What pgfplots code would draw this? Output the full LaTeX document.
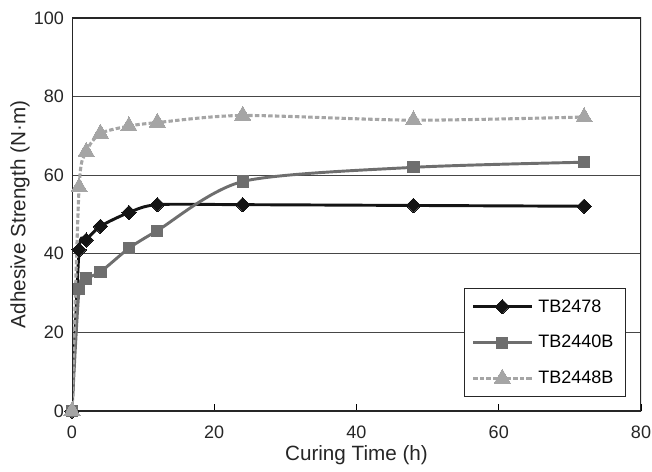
\documentclass[border=0pt]{standalone}
\usepackage{fontspec}
\setmainfont{Liberation Sans}
\usepackage{pgfplots}
\pgfplotsset{compat=1.18}
\definecolor{cA}{RGB}{20,20,20}
\definecolor{cB}{RGB}{110,110,110}
\definecolor{cC}{RGB}{165,165,165}
\definecolor{gridc}{RGB}{70,70,70}
\begin{document}
\begin{tikzpicture}
\begin{axis}[
  scale only axis,
  width=426.75pt, height=294.75pt,
  xmin=0, xmax=80, ymin=0, ymax=100,
  xtick={0,20,40,60,80}, ytick={0,20,40,60,80,100},
  /pgf/number format/assume math mode=true,
  tick label style={font=\fontsize{13.5}{16}\selectfont, text=black!85},
  xticklabel style={yshift=-8pt},
  yticklabel style={xshift=-2.5pt},
  label style={font=\fontsize{15.5}{18}\selectfont, text=black!85},
  xlabel={Curing Time (h)}, ylabel={Adhesive Strength (N·m)},
  xlabel style={at={(rel axis cs:0.5,-0.112)}, anchor=center},
  ylabel style={at={(rel axis cs:-0.0914,0.5)}, anchor=center},
  ymajorgrids, grid style={gridc, line width=0.7pt},
  axis line style={draw=none},
  tick align=inside, xtick pos=bottom, ytick pos=left,
  major x tick style={black, line width=0.8pt}, major tick length=5pt,
  major y tick style={draw=none},
  legend cell align=left,
  legend style={at={(0.9736,0.0356)}, anchor=south east, draw=black!85, line width=0.8pt,
    font=\fontsize{13.5}{16}\selectfont, row sep=12pt, inner xsep=5pt, inner ysep=6pt,
    nodes={inner xsep=4pt}},
  legend image code/.code={\draw[mark repeat=2,mark phase=2] plot coordinates {(0cm,0cm) (0.77cm,0cm) (1.54cm,0cm)};},
]
\addplot[cA, line width=2.2pt, smooth, tension=0.45, mark=square*, mark size=3.8pt, mark options={rotate=45, solid, fill=cA, draw=cA, line width=0pt}]
 coordinates {(0,0) (1,41) (2,43.5) (4,47) (8,50.5) (12,52.5) (24,52.5) (48,52.3) (72,52.1)};
\addlegendentry{TB2478}
\addplot[cB, line width=2.2pt, smooth, tension=0.45, mark=square*, mark size=4.2pt, mark options={solid, fill=cB, draw=cB, line width=0pt}]
 coordinates {(0,0) (1,31) (2,33.7) (4,35.4) (8,41.4) (12,45.9) (24,58.4) (48,62) (72,63.3)};
\addlegendentry{TB2440B}
\addplot[cC, line width=2.3pt, smooth, tension=0.45, dash pattern=on 3.3pt off 1.7pt, mark=triangle*, mark size=7pt, mark options={solid, fill=cC, draw=cC, line width=0pt}]
 coordinates {(0,0) (1,57) (2,66) (4,70.6) (8,72.5) (12,73.4) (24,75.2) (48,74) (72,74.8)};
\addlegendentry{TB2448B}
\draw[black!85, line width=1.6pt] (rel axis cs:0,0) rectangle (rel axis cs:1,1);
\end{axis}
\pgfresetboundingbox
\path ([xshift=-54pt, yshift=-45pt]current axis.south west) rectangle ([xshift=8.25pt, yshift=13.5pt]current axis.north east);
\end{tikzpicture}
\end{document}
